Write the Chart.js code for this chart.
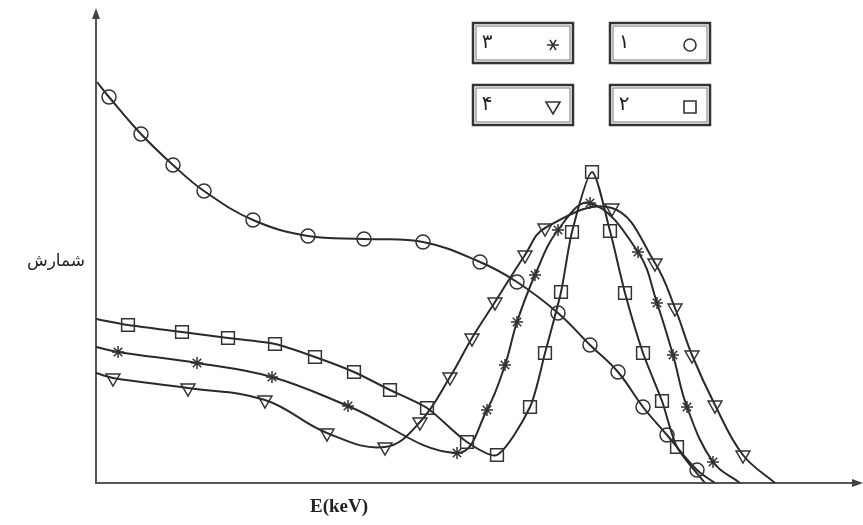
<!DOCTYPE html>
<html>
<head>
<meta charset="utf-8">
<script src="https://cdn.jsdelivr.net/npm/chart.js@4.4.1/dist/chart.umd.min.js"></script>
<style>
  body { margin: 0; background: #fff; }
</style>
</head>
<body>
<canvas id="spectrumChart" width="863" height="525"></canvas>
<script>
// energy (arbitrary units) and counts; first and last point of each
// series are where the curve leaves the axis (no marker there)
const energy1 = [1, 13, 45, 77, 108, 157, 212, 268, 327, 384, 421, 462, 494, 522, 547, 571, 601, 619];
const count1  = [401, 386, 349, 318, 292, 263, 247, 244, 241, 221, 201, 170, 138, 111, 76, 48, 13, 0];

const energy2 = [0, 32, 86, 132, 179, 219, 258, 294, 331, 371, 401, 434, 449, 465, 476, 496, 514, 529, 547, 566, 581, 609];
const count2  = [164, 158, 151, 145, 139, 126, 111, 93, 75, 41, 28, 76, 130, 191, 251, 311, 252, 190, 130, 82, 36, 0];

const energy3 = [0, 22, 101, 176, 252, 361, 391, 409, 421, 439, 462, 494, 542, 561, 577, 591, 617, 644];
const count3  = [136, 131, 120, 106, 77, 30, 73, 118, 161, 208, 253, 280, 231, 180, 128, 76, 21, 0];

const energy4 = [0, 17, 92, 169, 231, 289, 324, 354, 376, 399, 429, 449, 516, 559, 579, 596, 619, 647, 679];
const count4  = [110, 105, 95, 83, 50, 36, 61, 106, 145, 181, 228, 255, 275, 220, 175, 128, 78, 28, 0];

const seriesLabels = ['۱', '۲', '۳', '۴'];
const ink = '#2a2a2a';

function toPoints(xs, ys) {
    return xs.map((x, i) => ({ x: x, y: ys[i] }));
}

function markerRadius(r) {
    return function(ctx) {
        const n = ctx.dataset.data.length;
        return (ctx.dataIndex === 0 || ctx.dataIndex === n - 1) ? 0 : r;
    };
}

function makeSeries(label, xs, ys, style, r, tension, rot) {
    return {
        label: label,
        data: toPoints(xs, ys),
        showLine: true,
        borderColor: ink,
        borderWidth: 2,
        tension: tension,
        pointStyle: style,
        pointRotation: rot || 0,
        pointRadius: markerRadius(r),
        pointBorderColor: '#333',
        pointBorderWidth: 1.5,
        pointBackgroundColor: 'rgba(0,0,0,0)'
    };
}

// axes with arrows, axis titles and the boxed key
const decor = {
    id: 'decor',
    beforeDatasetsDraw(chart) {
        const c = chart.ctx, a = chart.chartArea;
        c.save();
        c.strokeStyle = '#555';
        c.lineWidth = 2;
        c.beginPath();
        c.moveTo(a.left, a.top + 4);
        c.lineTo(a.left, a.bottom);
        c.lineTo(a.right, a.bottom);
        c.stroke();
        c.fillStyle = '#444';
        c.beginPath();
        c.moveTo(a.left, a.top - 2);
        c.lineTo(a.left - 4, a.top + 9);
        c.lineTo(a.left + 4, a.top + 9);
        c.closePath();
        c.fill();
        c.beginPath();
        c.moveTo(a.right + 3, a.bottom);
        c.lineTo(a.right - 8, a.bottom - 4);
        c.lineTo(a.right - 8, a.bottom + 4);
        c.closePath();
        c.fill();

        c.fillStyle = '#222';
        c.font = '17px "DejaVu Sans"';
        c.textAlign = 'center';
        c.textBaseline = 'middle';
        c.fillText('شمارش', 56, 262);
        c.font = 'bold 19px "Liberation Serif"';
        c.fillText('E(keV)', 339, 507);
        c.restore();
    },
    afterDraw(chart) {
        const c = chart.ctx;
        const boxes = [
            { x: 610, y: 23, label: seriesLabels[0], mark: 'circle' },
            { x: 610, y: 85, label: seriesLabels[1], mark: 'rect' },
            { x: 473, y: 23, label: seriesLabels[2], mark: 'star' },
            { x: 473, y: 85, label: seriesLabels[3], mark: 'tri' }
        ];
        c.save();
        boxes.forEach(b => {
            c.strokeStyle = '#333';
            c.lineWidth = 2.5;
            c.strokeRect(b.x, b.y, 100, 40);
            c.strokeStyle = '#777';
            c.lineWidth = 1;
            c.strokeRect(b.x + 3, b.y + 3, 94, 34);
            c.fillStyle = '#222';
            c.font = '20px "DejaVu Sans"';
            c.textAlign = 'center';
            c.textBaseline = 'middle';
            c.fillText(b.label, b.x + 14, b.y + 20);
            const mx = b.x + 80, my = b.y + 22;
            c.strokeStyle = '#333';
            c.lineWidth = 1.6;
            c.beginPath();
            if (b.mark === 'circle') {
                c.arc(mx, my, 6, 0, Math.PI * 2);
            } else if (b.mark === 'rect') {
                c.rect(mx - 6, my - 6, 12, 12);
            } else if (b.mark === 'star') {
                for (let k = 0; k < 3; k++) {
                    const ang = k * Math.PI / 3;
                    c.moveTo(mx - 6 * Math.cos(ang), my - 6 * Math.sin(ang));
                    c.lineTo(mx + 6 * Math.cos(ang), my + 6 * Math.sin(ang));
                }
            } else {
                c.moveTo(mx - 7, my - 5);
                c.lineTo(mx + 7, my - 5);
                c.lineTo(mx, my + 7);
                c.closePath();
            }
            c.stroke();
        });
        c.restore();
    }
};

const ctx = document.getElementById('spectrumChart').getContext('2d');

new Chart(ctx, {
    type: 'scatter',
    data: {
        datasets: [
            makeSeries(seriesLabels[0], energy1, count1, 'circle', 7, 0.4),
            makeSeries(seriesLabels[1], energy2, count2, 'rect', 9, 0.25),
            makeSeries(seriesLabels[2], energy3, count3, 'star', 6, 0.4),
            makeSeries(seriesLabels[3], energy4, count4, 'triangle', 8, 0.4, 180)
        ]
    },
    options: {
        responsive: false,
        animation: false,
        devicePixelRatio: 1,
        layout: {
            padding: { left: 96, top: 10, right: 3, bottom: 42 }
        },
        scales: {
            x: { type: 'linear', min: 0, max: 764, display: false },
            y: { type: 'linear', min: 0, max: 473, display: false }
        },
        plugins: {
            legend: { display: false },
            tooltip: { enabled: false }
        }
    },
    plugins: [decor]
});
</script>
</body>
</html>
